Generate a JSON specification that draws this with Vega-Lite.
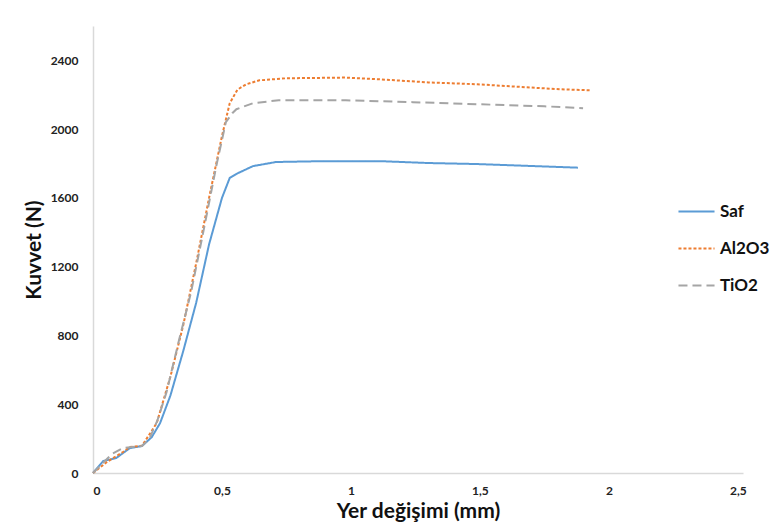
{
  "$schema": "https://vega.github.io/schema/vega-lite/v6.json",
  "width": 650,
  "height": 447,
  "autosize": {"type": "none"},
  "padding": {"left": 93, "top": 26, "right": 39, "bottom": 54},
  "background": "white",
  "config": {"view": {"stroke": null}, "font": "Lato"},
  "data": {"values": [
    {"s": "Saf", "x": 0, "y": 0},
    {"s": "Saf", "x": 0.04, "y": 70},
    {"s": "Saf", "x": 0.09, "y": 87},
    {"s": "Saf", "x": 0.143, "y": 145},
    {"s": "Saf", "x": 0.19, "y": 157},
    {"s": "Saf", "x": 0.228, "y": 209},
    {"s": "Saf", "x": 0.26, "y": 290},
    {"s": "Saf", "x": 0.3, "y": 450},
    {"s": "Saf", "x": 0.35, "y": 710},
    {"s": "Saf", "x": 0.4, "y": 990},
    {"s": "Saf", "x": 0.45, "y": 1330},
    {"s": "Saf", "x": 0.5, "y": 1600},
    {"s": "Saf", "x": 0.53, "y": 1716},
    {"s": "Saf", "x": 0.555, "y": 1739},
    {"s": "Saf", "x": 0.62, "y": 1785},
    {"s": "Saf", "x": 0.71, "y": 1809},
    {"s": "Saf", "x": 0.9, "y": 1814},
    {"s": "Saf", "x": 1.11, "y": 1814},
    {"s": "Saf", "x": 1.3, "y": 1803},
    {"s": "Saf", "x": 1.49, "y": 1797},
    {"s": "Saf", "x": 1.73, "y": 1784},
    {"s": "Saf", "x": 1.88, "y": 1776},
    {"s": "Al2O3", "x": 0, "y": 0},
    {"s": "Al2O3", "x": 0.054, "y": 64},
    {"s": "Al2O3", "x": 0.116, "y": 122},
    {"s": "Al2O3", "x": 0.143, "y": 151},
    {"s": "Al2O3", "x": 0.19, "y": 158},
    {"s": "Al2O3", "x": 0.247, "y": 290},
    {"s": "Al2O3", "x": 0.3, "y": 560},
    {"s": "Al2O3", "x": 0.35, "y": 860},
    {"s": "Al2O3", "x": 0.4, "y": 1220},
    {"s": "Al2O3", "x": 0.45, "y": 1600},
    {"s": "Al2O3", "x": 0.5, "y": 1960},
    {"s": "Al2O3", "x": 0.53, "y": 2150},
    {"s": "Al2O3", "x": 0.56, "y": 2230},
    {"s": "Al2O3", "x": 0.594, "y": 2261},
    {"s": "Al2O3", "x": 0.645, "y": 2284},
    {"s": "Al2O3", "x": 0.75, "y": 2296},
    {"s": "Al2O3", "x": 0.98, "y": 2300},
    {"s": "Al2O3", "x": 1.11, "y": 2290},
    {"s": "Al2O3", "x": 1.3, "y": 2272},
    {"s": "Al2O3", "x": 1.49, "y": 2261},
    {"s": "Al2O3", "x": 1.62, "y": 2249},
    {"s": "Al2O3", "x": 1.81, "y": 2232},
    {"s": "Al2O3", "x": 1.93, "y": 2226},
    {"s": "TiO2", "x": 0, "y": 0},
    {"s": "TiO2", "x": 0.073, "y": 110},
    {"s": "TiO2", "x": 0.116, "y": 145},
    {"s": "TiO2", "x": 0.19, "y": 157},
    {"s": "TiO2", "x": 0.22, "y": 203},
    {"s": "TiO2", "x": 0.25, "y": 307},
    {"s": "TiO2", "x": 0.285, "y": 470},
    {"s": "TiO2", "x": 0.336, "y": 788},
    {"s": "TiO2", "x": 0.38, "y": 1050},
    {"s": "TiO2", "x": 0.43, "y": 1420},
    {"s": "TiO2", "x": 0.48, "y": 1800},
    {"s": "TiO2", "x": 0.515, "y": 2040},
    {"s": "TiO2", "x": 0.54, "y": 2093},
    {"s": "TiO2", "x": 0.556, "y": 2116},
    {"s": "TiO2", "x": 0.62, "y": 2151},
    {"s": "TiO2", "x": 0.72, "y": 2168},
    {"s": "TiO2", "x": 0.98, "y": 2168},
    {"s": "TiO2", "x": 1.24, "y": 2157},
    {"s": "TiO2", "x": 1.49, "y": 2145},
    {"s": "TiO2", "x": 1.75, "y": 2133},
    {"s": "TiO2", "x": 1.9, "y": 2122}
  ]},
  "mark": {"type": "line", "strokeWidth": 2},
  "encoding": {
    "x": {
      "field": "x", "type": "quantitative",
      "scale": {"domain": [0, 2.52], "nice": false},
      "axis": {
        "values": [0, 0.5, 1, 1.5, 2, 2.5],
        "labelExpr": "replace(format(datum.value, '~g'), '.', ',')",
        "title": "Yer değişimi (mm)",
        "grid": false, "ticks": false,
        "domainColor": "#D9D9D9", "domainWidth": 1.5,
        "labelFont": "Lato", "labelFontWeight": "bold", "labelFontSize": 12, "labelColor": "#222222",
        "labelPadding": 12,
        "titleFont": "Lato", "titleFontWeight": "bold", "titleFontSize": 21, "titleColor": "#111111",
        "titlePadding": 4
      }
    },
    "y": {
      "field": "y", "type": "quantitative",
      "scale": {"domain": [0, 2600], "nice": false},
      "axis": {
        "values": [0, 400, 800, 1200, 1600, 2000, 2400],
        "format": "d",
        "title": "Kuvvet (N)",
        "grid": false, "ticks": false,
        "domainColor": "#D9D9D9", "domainWidth": 1.5,
        "labelFont": "Lato", "labelFontWeight": "bold", "labelFontSize": 12, "labelColor": "#222222",
        "labelPadding": 15,
        "titleFont": "Lato", "titleFontWeight": "bold", "titleFontSize": 21, "titleColor": "#111111",
        "titlePadding": 6
      }
    },
    "color": {
      "field": "s", "type": "nominal",
      "scale": {"domain": ["Saf", "Al2O3", "TiO2"], "range": ["#5B9BD5", "#ED7D31", "#A5A5A5"]},
      "legend": {
        "title": null, "orient": "none", "legendX": 584, "legendY": 166,
        "symbolType": "stroke", "symbolSize": 1300, "symbolStrokeWidth": 2,
        "labelFont": "Lato", "labelFontWeight": "bold", "labelFontSize": 17, "labelColor": "#111111",
        "rowPadding": 9, "labelOffset": 4
      }
    },
    "strokeDash": {
      "field": "s", "type": "nominal",
      "scale": {"domain": ["Saf", "Al2O3", "TiO2"], "range": [[1, 0], [3, 2], [9, 5]]},
      "legend": {
        "title": null, "orient": "none", "legendX": 584, "legendY": 166,
        "symbolType": "stroke", "symbolSize": 1300, "symbolStrokeWidth": 2,
        "labelFont": "Lato", "labelFontWeight": "bold", "labelFontSize": 17, "labelColor": "#111111",
        "rowPadding": 9, "labelOffset": 4
      }
    }
  }
}
